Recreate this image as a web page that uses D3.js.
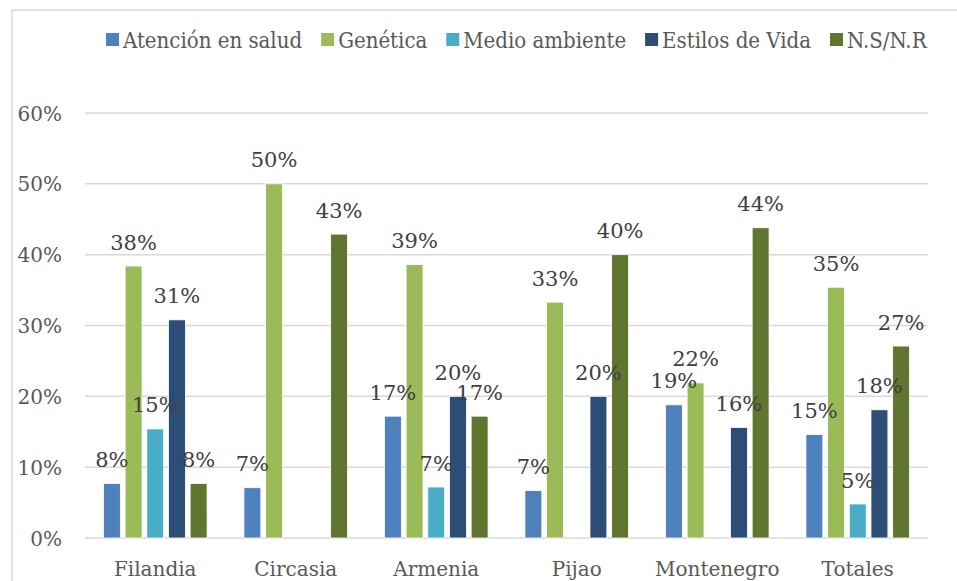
<!DOCTYPE html>
<html lang="es">
<head>
  <meta charset="UTF-8">
  <title>Factores por municipio</title>
  <script src="https://d3js.org/d3.v7.min.js"></script>
  <style>
    body { margin: 0; background: #fff; }
    svg { display: block; font-family: "DejaVu Serif", serif; }
  </style>
</head>
<body>
  <div id="vis"></div>
  <script>
    const categories = ["Filandia", "Circasia", "Armenia", "Pijao", "Montenegro", "Totales"];
    const series = ["Atención en salud", "Genética", "Medio ambiente", "Estilos de Vida", "N.S/N.R"];
    const colors = ["#4f81bd", "#9bbb59", "#4bacc6", "#2c4d75", "#5f7530"];
    // percent values per series, in category order (0 = no bar)
    const atencion = [7.7, 7.1, 17.2, 6.7, 18.8, 14.6];
    const genetica = [38.4, 50.0, 38.6, 33.3, 21.9, 35.4];
    const medio = [15.4, 0, 7.2, 0, 0, 4.8];
    const estilos = [30.8, 0, 20.0, 20.0, 15.6, 18.1];
    const nsnr = [7.7, 42.9, 17.2, 40.0, 43.8, 27.1];
    const yTicks = [0, 10, 20, 30, 40, 50, 60];

    const values = [atencion, genetica, medio, estilos, nsnr];
    const width = 957, height = 581;
    const plot = { left: 85, right: 928, top: 113, bottom: 538 };

    const svg = d3.select("#vis").append("svg")
      .attr("width", width)
      .attr("height", height);

    // chart border
    svg.append("rect")
      .attr("x", 12).attr("y", 10)
      .attr("width", 1000).attr("height", 600)
      .attr("fill", "none")
      .attr("stroke", "#d9d9d9")
      .attr("stroke-width", 1.5);

    const y = d3.scaleLinear().domain([0, 60]).range([plot.bottom, plot.top]);
    const x0 = d3.scaleBand().domain(categories).range([plot.left, plot.right]);
    const x1 = d3.scaleBand().domain(series).range([0, x0.bandwidth()])
      .paddingInner(0.22).paddingOuter(0.85);

    // gridlines
    svg.append("g")
      .selectAll("line")
      .data(yTicks)
      .join("line")
      .attr("x1", plot.left).attr("x2", plot.right)
      .attr("y1", d => y(d)).attr("y2", d => y(d))
      .attr("stroke", "#d9d9d9")
      .attr("stroke-width", 1.5);

    // y labels
    svg.append("g")
      .selectAll("text")
      .data(yTicks)
      .join("text")
      .attr("x", 62)
      .attr("y", d => y(d) + 7.5)
      .attr("text-anchor", "end")
      .attr("fill", "#595959")
      .attr("font-size", 20)
      .text(d => d + "%");

    // x labels
    svg.append("g")
      .selectAll("text")
      .data(categories)
      .join("text")
      .attr("x", d => x0(d) + x0.bandwidth() / 2)
      .attr("y", 576)
      .attr("text-anchor", "middle")
      .attr("fill", "#595959")
      .attr("font-size", 20)
      .text(d => d);

    const flat = [];
    categories.forEach((c, ci) => {
      series.forEach((s, si) => {
        flat.push({ cat: c, ser: s, color: colors[si], value: values[si][ci] });
      });
    });
    const shown = flat.filter(d => d.value > 0);

    svg.append("g")
      .selectAll("rect")
      .data(shown)
      .join("rect")
      .attr("x", d => x0(d.cat) + x1(d.ser))
      .attr("y", d => y(d.value))
      .attr("width", x1.bandwidth())
      .attr("height", d => y(0) - y(d.value))
      .attr("fill", d => d.color)
      .attr("stroke", "#fff")
      .attr("stroke-width", 0.8);

    svg.append("g")
      .selectAll("text")
      .data(shown)
      .join("text")
      .attr("x", d => x0(d.cat) + x1(d.ser) + x1.bandwidth() / 2)
      .attr("y", d => y(d.value) - 16.5)
      .attr("text-anchor", "middle")
      .attr("fill", "#404040")
      .attr("font-size", 21)
      .text(d => Math.round(d.value) + "%");

    // legend
    const legend = svg.append("g").attr("transform", "translate(106,0)");
    let lx = 0;
    series.forEach((s, i) => {
      const g = legend.append("g").attr("transform", `translate(${lx},0)`);
      g.append("rect")
        .attr("x", 0).attr("y", 33)
        .attr("width", 13).attr("height", 13)
        .attr("fill", colors[i]);
      const t = g.append("text")
        .attr("x", 17).attr("y", 48)
        .attr("fill", "#595959")
        .attr("font-size", 22)
        .attr("font-family", "'DejaVu Serif Condensed', 'DejaVu Serif', serif")
        .text(s);
      lx += 17 + t.node().getComputedTextLength() + 19;
    });
  </script>
</body>
</html>
